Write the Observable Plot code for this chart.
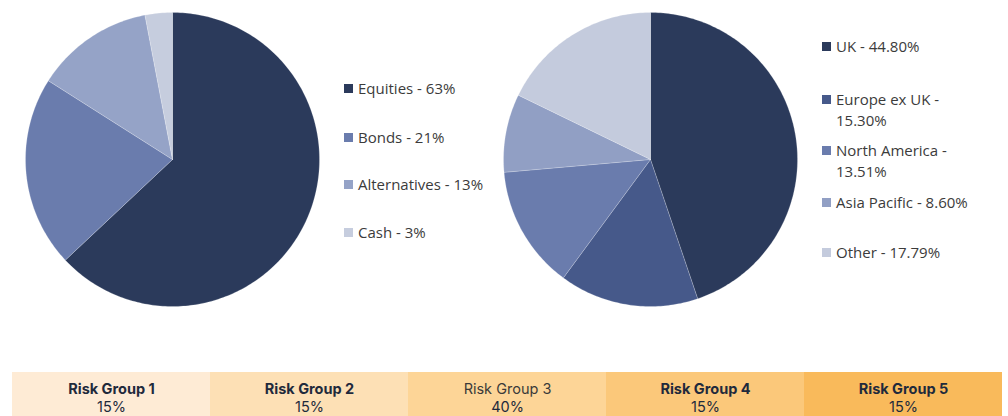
<!DOCTYPE html>
<html>
<head>
<meta charset="utf-8">
<script src="https://cdn.jsdelivr.net/npm/d3@7"></script>
<script src="https://cdn.jsdelivr.net/npm/@observablehq/plot@0.6"></script>
<style>
  html, body { margin: 0; padding: 0; background: #fff; }
  #root { position: relative; width: 1008px; height: 416px; overflow: hidden; }
  .abs { position: absolute; }
  .leg { position: absolute; font-family: "Open Sans", sans-serif; font-size: 15px; color: #3b3b3b; line-height: 21px; white-space: nowrap; }
  .leg .sw { position: absolute; left: 0; top: 6px; width: 9px; height: 9px; }
  .leg .tx { position: absolute; left: 14px; top: 0; }
</style>
</head>
<body>
<div id="root"></div>
<script>
// ---- Data ----
const assetNames = ["Equities", "Bonds", "Alternatives", "Cash"];
const assetValues = [63, 21, 13, 3];
const assetLabels = ["63%", "21%", "13%", "3%"];
const assetColors = ["#2b3a5b", "#6a7cad", "#95a3c7", "#c6cdde"];

const regionNames = ["UK", "Europe ex UK", "North America", "Asia Pacific", "Other"];
const regionValues = [44.80, 15.30, 13.51, 8.60, 17.79];
const regionLabels = ["44.80%", "15.30%", "13.51%", "8.60%", "17.79%"];
const regionColors = ["#2b3a5b", "#46598a", "#6a7cad", "#919fc4", "#c4cbdd"];

const riskGroups = ["Risk Group 1", "Risk Group 2", "Risk Group 3", "Risk Group 4", "Risk Group 5"];
const riskShares = ["15%", "15%", "40%", "15%", "15%"];
const riskColors = ["#feebd5", "#fde0b5", "#fdd597", "#fbc87a", "#f9ba5b"];

// ---- Helpers ----
function slicePoints(names, values) {
  const total = d3.sum(values);
  const pts = [];
  let acc = 0;
  names.forEach((name, i) => {
    const a0 = acc / total * 2 * Math.PI;
    acc += values[i];
    const a1 = acc / total * 2 * Math.PI;
    const n = Math.max(2, Math.ceil((a1 - a0) / (Math.PI / 180)));
    pts.push({name, x: 0, y: 0});
    for (let k = 0; k <= n; k++) {
      const t = a0 + (a1 - a0) * k / n;
      pts.push({name, x: Math.sin(t), y: Math.cos(t)});
    }
    pts.push({name, x: 0, y: 0});
  });
  return pts;
}

function pie(names, values, colors) {
  return Plot.plot({
    width: 300, height: 300, margin: 3,
    x: {domain: [-1, 1], axis: null},
    y: {domain: [-1, 1], axis: null},
    color: {domain: names, range: colors},
    marks: [
      Plot.line(slicePoints(names, values), {
        x: "x", y: "y", z: "name", fill: "name",
        stroke: "#ffffff", strokeWidth: 0.5, strokeOpacity: 0.4, curve: "linear"
      })
    ]
  });
}

const root = document.getElementById("root");

function place(el, left, top) {
  el.classList.add("abs");
  el.style.left = left + "px";
  el.style.top = top + "px";
  root.appendChild(el);
}

place(pie(assetNames, assetValues, assetColors), 22, 9);
place(pie(regionNames, regionValues, regionColors), 500, 9);

function legend(names, labels, colors, left, tops, wraps) {
  names.forEach((name, i) => {
    const item = document.createElement("div");
    item.className = "leg";
    item.style.left = left + "px";
    item.style.top = tops[i] + "px";
    const sw = document.createElement("div");
    sw.className = "sw";
    sw.style.background = colors[i];
    const tx = document.createElement("div");
    tx.className = "tx";
    if (wraps[i]) {
      tx.append(name + " -", document.createElement("br"), labels[i]);
    } else {
      tx.textContent = name + " - " + labels[i];
    }
    item.append(sw, tx);
    root.appendChild(item);
  });
}

legend(assetNames, assetLabels, assetColors, 344, [78, 127, 174, 222], [false, false, false, false]);
legend(regionNames, regionLabels, regionColors, 822, [36, 89, 140, 192, 242], [false, true, true, false, false]);

// ---- Risk group bar ----
const riskTable = riskGroups.map((g, i) => ({group: g, share: riskShares[i]}));
const bar = Plot.plot({
  width: 993, height: 44, margin: 0,
  style: {fontFamily: "Inter, sans-serif", background: "transparent"},
  x: {domain: riskGroups, padding: 0, axis: null},
  color: {domain: riskGroups, range: riskColors},
  marks: [
    Plot.cell(riskTable, {x: "group", fill: "group"}),
    Plot.text(riskTable, {x: "group", text: "group", frameAnchor: "middle", dy: -5,
      fontSize: 14.5, fontWeight: "bold", fill: "#1f2a3c",
      filter: d => d.group !== "Risk Group 3"}),
    Plot.text(riskTable, {x: "group", text: "group", frameAnchor: "middle", dy: -5,
      fontSize: 14.5, fontWeight: "normal", fill: "#3a3a3a",
      filter: d => d.group === "Risk Group 3"}),
    Plot.text(riskTable, {x: "group", text: "share", frameAnchor: "middle", dy: 13,
      fontSize: 14.5, fill: "#1f2a3c"})
  ]
});
place(bar, 10, 372);
</script>
</body>
</html>
